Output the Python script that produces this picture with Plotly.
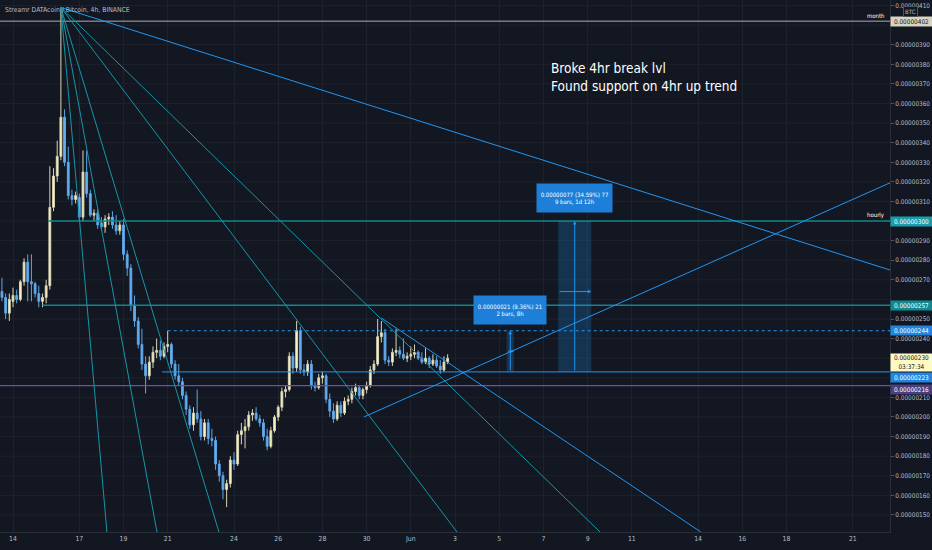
import plotly.graph_objects as go
import pandas as pd

SAT = 1e-8  # values below are in satoshi (1e-8 BTC)

# ---------------- data (4h candles, STREAMR DATAcoin / BTC) ----------------
start_time = "2019-05-13 12:00"
opens = [264, 261, 253, 259, 262, 260, 269, 279, 269, 268, 263, 259, 261, 267, 307, 323, 333, 353, 330, 313,
         311, 312, 302, 325, 314, 303, 304, 299, 297, 301, 302, 298, 295, 298, 283, 276, 257, 249, 237, 227,
         221, 228, 233, 234, 231, 236, 237, 227, 221, 218, 211, 204, 196, 202, 199, 190, 197, 189, 188, 176,
         170, 163, 166, 178, 176, 191, 193, 195, 201, 202, 199, 197, 190, 185, 193, 200, 205, 213, 214, 231,
         225, 244, 224, 223, 227, 216, 215, 220, 221, 209, 203, 199, 206, 202, 208, 209, 213, 215, 211, 214,
         216, 224, 227, 241, 243, 229, 228, 233, 234, 232, 230, 231, 232, 233, 230, 228, 230, 227, 229, 226,
         224, 228]
highs = [271, 263, 263, 266, 265, 270, 281, 283, 283, 269, 267, 263, 270, 328, 327, 341, 409, 357, 338, 316,
         315, 314, 336, 336, 316, 306, 306, 302, 303, 304, 305, 303, 300, 301, 285, 278, 262, 251, 245, 231,
         231, 236, 240, 239, 238, 244, 238, 229, 227, 220, 213, 206, 205, 214, 203, 199, 199, 194, 190, 178,
         172, 168, 180, 182, 193, 197, 199, 203, 204, 205, 201, 199, 194, 195, 201, 206, 215, 216, 233, 233,
         249, 246, 227, 229, 229, 218, 222, 223, 222, 212, 207, 208, 208, 210, 211, 215, 217, 216, 215, 218,
         226, 229, 250, 249, 245, 231, 235, 245, 236, 240, 233, 236, 237, 234, 233, 235, 231, 232, 231, 229,
         231, 232]
lows = [259, 250, 249, 256, 258, 259, 267, 259, 259, 261, 256, 256, 258, 265, 305, 320, 331, 328, 311, 308,
        309, 300, 300, 312, 302, 300, 296, 295, 294, 298, 296, 293, 293, 280, 272, 254, 246, 235, 224, 212,
        219, 225, 230, 229, 230, 233, 225, 219, 216, 209, 201, 194, 193, 197, 188, 188, 186, 185, 173, 167,
        158, 154, 164, 173, 175, 186, 184, 193, 198, 198, 195, 188, 183, 184, 192, 198, 203, 210, 213, 222,
        223, 222, 221, 221, 214, 213, 214, 217, 207, 200, 197, 198, 200, 201, 206, 207, 211, 209, 209, 212,
        215, 222, 226, 238, 227, 226, 226, 231, 230, 229, 228, 229, 230, 229, 227, 227, 225, 226, 225, 222,
        223, 227]
closes = [261, 253, 260, 262, 260, 269, 279, 269, 268, 263, 259, 261, 267, 307, 323, 333, 353, 330, 313, 311,
          313, 302, 325, 314, 303, 304, 298, 297, 301, 302, 298, 295, 298, 283, 276, 257, 249, 237, 227, 221,
          228, 233, 234, 231, 236, 237, 227, 221, 218, 211, 204, 196, 202, 199, 190, 197, 189, 188, 176, 170,
          163, 166, 178, 176, 191, 193, 195, 201, 202, 199, 197, 190, 185, 193, 200, 205, 213, 214, 231, 225,
          244, 224, 223, 227, 216, 215, 220, 221, 209, 203, 199, 206, 202, 208, 209, 213, 215, 211, 214, 216,
          224, 227, 241, 243, 229, 228, 233, 234, 232, 230, 231, 232, 233, 230, 228, 230, 227, 229, 226, 224,
          228, 230]

# x-axis tick dates and labels
tick_dates = ["2019-05-14", "2019-05-17", "2019-05-19", "2019-05-21", "2019-05-24", "2019-05-26",
              "2019-05-28", "2019-05-30", "2019-06-01", "2019-06-03", "2019-06-05", "2019-06-07",
              "2019-06-09", "2019-06-11", "2019-06-14", "2019-06-16", "2019-06-18", "2019-06-21"]
tick_labels = ["14", "17", "19", "21", "24", "26", "28", "30", "Jun", "3", "5", "7", "9", "11",
               "14", "16", "18", "21"]
# price ticks that are not hidden behind the price labels
price_ticks = [150, 160, 170, 180, 190, 200, 210, 240, 250, 270, 280, 290,
               310, 320, 330, 340, 350, 360, 370, 380, 390, 410]
grid_ticks = [150, 160, 170, 180, 190, 200, 210, 220, 230, 240, 250, 260, 270, 280, 290, 300,
              310, 320, 330, 340, 350, 360, 370, 380, 390, 400, 410]

# horizontal levels (sat)
level_month = 402
level_hourly = 300
level_257 = 257
level_244 = 244
level_223 = 223
level_216 = 216
last_price = 230

# view range
x_start, x_end = "2019-05-13 09:53", "2019-06-22 16:23"
y_min, y_max = 141.3, 412.8

# ---------------- styling ----------------
BG = "#131722"
GRID = "#1e222d"
TXT = "#b8bbc4"
TEAL = "#1596a8"
BLUE = "#2196f3"
FONT = "DejaVu Sans Condensed, Liberation Sans Narrow, sans-serif"

times = pd.date_range(start_time, periods=len(opens), freq="4h")

fig = go.Figure()
fig.add_trace(go.Candlestick(
    x=times,
    open=[v * SAT for v in opens], high=[v * SAT for v in highs],
    low=[v * SAT for v in lows], close=[v * SAT for v in closes],
    increasing=dict(line=dict(color="#d9d5b3", width=1), fillcolor="#fff8c8"),
    decreasing=dict(line=dict(color="#5da6e8", width=1), fillcolor="#64b0f4"),
    showlegend=False, hoverinfo="skip",
))

shapes = []

# horizontal grid lines at every price step (labels may be hidden)
for g in grid_ticks:
    shapes.append(dict(type="line", xref="paper", yref="y", x0=0, x1=1, y0=g * SAT, y1=g * SAT,
                       line=dict(color=GRID, width=1), layer="below"))


def seg(x0, y0, x1, y1, color, width=1, dash="solid"):
    shapes.append(dict(type="line", xref="x", yref="y", x0=x0, y0=y0 * SAT, x1=x1, y1=y1 * SAT,
                       line=dict(color=color, width=width, dash=dash), layer="above"))


# horizontal levels
seg(x_start, level_month, x_end, level_month, "#a9acb5", 1)
seg("2019-05-15 14:00", level_hourly, x_end, level_hourly, "#12868a", 1.6)
seg("2019-05-15 08:00", level_257, x_end, level_257, "#12868a", 1.6)
seg("2019-05-21 00:00", level_244, x_end, level_244, BLUE, 1, "3px,3px")
seg("2019-05-20 18:00", level_223, x_end, level_223, BLUE, 1)
seg(x_start, level_216, x_end, level_216, "#6e4bb8", 1.4)

# fan from the top
fan_origin = ("2019-05-16 04:00", 409)
fan_ends = ["2019-05-18 06:00", "2019-05-20 12:20", "2019-05-23 07:40", "2019-06-03 02:10", "2019-06-09 13:30"]
for fe in fan_ends:
    seg(fan_origin[0], fan_origin[1], fe, y_min, TEAL, 1)
seg(fan_origin[0], fan_origin[1], x_end, 275, BLUE, 1)

# triangle / trend lines
seg("2019-05-30 16:00", 250.5, "2019-06-14 03:00", y_min, BLUE, 1)
seg("2019-05-29 21:00", 200, x_end, 319.5, BLUE, 1)

# measurement boxes
shapes.append(dict(type="rect", xref="x", yref="y", x0="2019-06-05 08:00", x1="2019-06-05 16:00",
                   y0=level_223 * SAT, y1=level_244 * SAT, fillcolor="rgba(33,150,243,0.22)",
                   line=dict(width=0), layer="above"))
shapes.append(dict(type="rect", xref="x", yref="y", x0="2019-06-07 16:00", x1="2019-06-09 04:00",
                   y0=level_223 * SAT, y1=level_hourly * SAT, fillcolor="rgba(33,150,243,0.22)",
                   line=dict(width=0), layer="above"))

annotations = []


def arrow(x_tail, y_tail, x_head, y_head):
    annotations.append(dict(x=x_head, y=y_head * SAT, ax=x_tail, ay=y_tail * SAT, xref="x", yref="y",
                            axref="x", ayref="y", text="", showarrow=True, arrowhead=2, arrowsize=0.7,
                            arrowwidth=1, arrowcolor=BLUE))


arrow("2019-06-05 12:00", level_223, "2019-06-05 12:00", level_244)
arrow("2019-06-05 08:00", (level_223 + level_244) / 2, "2019-06-05 16:00", (level_223 + level_244) / 2)
arrow("2019-06-08 10:00", level_223, "2019-06-08 10:00", level_hourly)
arrow("2019-06-07 16:00", 264, "2019-06-09 04:00", 264)

annotations.append(dict(x="2019-06-05 12:00", y=level_244 * SAT, xref="x", yref="y", yanchor="bottom",
                        yshift=6, showarrow=False, text="0.00000021 (9.36%) 21<br>2 bars, 8h",
                        bgcolor="#1e7fd8", width=70, height=26, borderpad=1,
                        font=dict(family=FONT, size=6.0, color="#ffffff")))
annotations.append(dict(x="2019-06-08 10:00", y=level_hourly * SAT, xref="x", yref="y", yanchor="bottom",
                        yshift=8, showarrow=False, text="0.00000077 (34.59%) 77<br>9 bars, 1d 12h",
                        bgcolor="#1e7fd8", width=73, height=26, borderpad=1,
                        font=dict(family=FONT, size=6.0, color="#ffffff")))

# commentary text
annotations.append(dict(x="2019-06-07 06:00", y=383 * SAT, xref="x", yref="y", xanchor="left",
                        yanchor="top", align="left", showarrow=False,
                        text="Broke 4hr break lvl<br>Found support on 4hr up trend",
                        font=dict(family=FONT, size=13.5, color="#ffffff")))

# title
annotations.append(dict(x=0, y=1, xref="paper", yref="paper", xanchor="left", yanchor="top",
                        xshift=3, yshift=-4, showarrow=False,
                        text="Streamr DATAcoin / Bitcoin, 4h, BINANCE",
                        font=dict(family=FONT, size=6.8, color=TXT)))

# line names
annotations.append(dict(x=1, y=level_month * SAT, xref="paper", yref="y", xanchor="right", yanchor="bottom",
                        xshift=-3, showarrow=False, text="month", font=dict(family=FONT, size=6, color="#ffffff")))
annotations.append(dict(x=1, y=level_hourly * SAT, xref="paper", yref="y", xanchor="right", yanchor="bottom",
                        xshift=-3, showarrow=False, text="hourly", font=dict(family=FONT, size=6, color="#ffffff")))

# current price label (drawn first so the level labels stay on top)
annotations.append(dict(x=1, y=last_price * SAT, xref="paper", yref="y", xanchor="left", yanchor="top",
                        yshift=5, showarrow=False, text="0.00000230<br>03:37:34", bgcolor="#fff9c4",
                        width=41, height=17, borderpad=0, font=dict(family=FONT, size=6.4, color="#131722")))

# price-axis labels: (value, text, background, text colour, vertical nudge in px)
axis_labels = [
    (level_month, "0.00000402", "#d6d3c0", "#131722", 0),
    (level_hourly, "0.00000300", "#1b9cad", "#ffffff", 0),
    (level_257, "0.00000257", "#138a8f", "#ffffff", 0),
    (level_244, "0.00000244", "#2186e0", "#ffffff", 0),
    (level_223, "0.00000223", "#2186e0", "#ffffff", -6),
    (level_216, "0.00000216", "#4b3f7d", "#ffffff", -4),
]
for val, txt, bg, fg, nudge in axis_labels:
    annotations.append(dict(x=1, y=val * SAT, xref="paper", yref="y", xanchor="left", yanchor="middle",
                            yshift=nudge, showarrow=False, text=txt, bgcolor=bg, width=41, height=9,
                            borderpad=0, font=dict(family=FONT, size=6.4, color=fg)))
annotations.append(dict(x=1, y=1, xref="paper", yref="paper", xanchor="left", yanchor="top", xshift=13,
                        yshift=-6, showarrow=False, text="BTC", bgcolor=BG, bordercolor="#50535e",
                        borderwidth=1, borderpad=1, font=dict(family=FONT, size=6, color=TXT)))

fig.update_layout(
    width=932, height=550,
    margin=dict(l=0, r=42, t=0, b=18),
    paper_bgcolor=BG, plot_bgcolor=BG,
    showlegend=False,
    shapes=shapes, annotations=annotations,
    xaxis=dict(type="date", range=[x_start, x_end], rangeslider=dict(visible=False),
               tickvals=tick_dates, ticktext=tick_labels, showgrid=True, gridcolor=GRID,
               zeroline=False, showline=True, linecolor="#2a2e39", ticks="",
               tickfont=dict(family=FONT, size=6.8, color=TXT)),
    yaxis=dict(side="right", range=[y_min * SAT, y_max * SAT], tickvals=[v * SAT for v in price_ticks],
               tickformat=".8f", showgrid=False, zeroline=False, showline=True,
               linecolor="#2a2e39", ticks="outside", ticklen=3, tickcolor="#50535e",
               tickfont=dict(family=FONT, size=6.4, color=TXT)),
)

fig.write_html("out.html")
